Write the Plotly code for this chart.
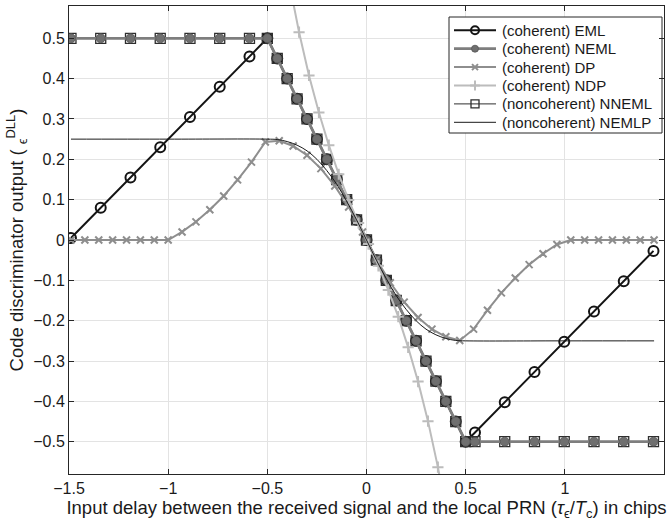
import plotly.graph_objects as go

# ---------------- data ----------------
# marker abscissae of the EML / NEML / NNEML curves
left_x = [-1.49, -1.34, -1.19, -1.04, -0.89, -0.74, -0.59]
mid_x = [-0.5, -0.45, -0.4, -0.35, -0.3, -0.25, -0.2, -0.15, -0.1, -0.05, 0.0,
         0.05, 0.1, 0.15, 0.2, 0.25, 0.3, 0.35, 0.4, 0.45, 0.5]
right_x = [0.547, 0.697, 0.847, 0.997, 1.147, 1.297, 1.447]

eml_left = [0.005, 0.08, 0.155, 0.23, 0.305, 0.38, 0.455]
eml_mid = [0.5, 0.45, 0.4, 0.35, 0.3, 0.25, 0.2, 0.15, 0.1, 0.05, 0.0,
           -0.05, -0.1, -0.15, -0.2, -0.25, -0.3, -0.35, -0.4, -0.45, -0.5]
eml_right = [-0.477, -0.402, -0.327, -0.252, -0.177, -0.102, -0.027]

neml_left = [0.5, 0.5, 0.5, 0.5, 0.5, 0.5, 0.5]
neml_mid = [0.5, 0.45, 0.4, 0.35, 0.3, 0.25, 0.2, 0.15, 0.1, 0.05, 0.0,
            -0.05, -0.1, -0.15, -0.2, -0.25, -0.3, -0.35, -0.4, -0.45, -0.5]
neml_right = [-0.5, -0.5, -0.5, -0.5, -0.5, -0.5, -0.5]

nneml_left = [0.5, 0.5, 0.5, 0.5, 0.5, 0.5, 0.5]
nneml_mid = [0.5, 0.45, 0.4, 0.35, 0.3, 0.25, 0.2, 0.15, 0.1, 0.05, 0.0,
             -0.05, -0.1, -0.15, -0.2, -0.25, -0.3, -0.35, -0.4, -0.45, -0.5]
nneml_right = [-0.5, -0.5, -0.5, -0.5, -0.5, -0.5, -0.5]

dp_x = [-1.49, -1.42, -1.35, -1.28, -1.21, -1.14, -1.07, -1.0, -0.93, -0.86,
        -0.79, -0.72, -0.65, -0.58, -0.51, -0.44, -0.37, -0.3, -0.23, -0.16,
        -0.09, -0.02, 0.05, 0.12, 0.19, 0.26, 0.33, 0.4, 0.47, 0.54,
        0.61, 0.68, 0.75, 0.82, 0.89, 0.96, 1.03, 1.1, 1.17, 1.24,
        1.31, 1.38, 1.45]
dp_y = [0.0, 0.0, 0.0, 0.0, 0.0, 0.0, 0.0, 0.0, 0.02, 0.045,
        0.075, 0.109, 0.149, 0.193, 0.243, 0.246, 0.233, 0.21, 0.177, 0.134,
        0.082, 0.02, -0.048, -0.106, -0.154, -0.192, -0.221, -0.24, -0.249, -0.221,
        -0.174, -0.131, -0.094, -0.061, -0.034, -0.011, 0.0, 0.0, 0.0, 0.0,
        0.0, 0.0, 0.0]

ndp_x = [-0.39, -0.34, -0.29, -0.24, -0.19, -0.14, -0.09, -0.04, 0.01,
         0.06, 0.11, 0.16, 0.21, 0.26, 0.31, 0.36, 0.41]
ndp_y = [0.639, 0.515, 0.408, 0.316, 0.235, 0.163, 0.099, 0.042, -0.01,
         -0.064, -0.124, -0.19, -0.266, -0.351, -0.449, -0.563, -0.695]

nemlp_x = [-1.49, -1.0, -0.5, -0.45, -0.4, -0.35, -0.3, -0.25, -0.2, -0.15, -0.1, -0.05, 0.0,
           0.05, 0.1, 0.15, 0.2, 0.25, 0.3, 0.35, 0.4, 0.45, 0.5, 1.0, 1.45]
nemlp_y = [0.25, 0.25, 0.25, 0.249, 0.244, 0.235, 0.221, 0.2, 0.172, 0.138, 0.096, 0.05, 0.0,
           -0.05, -0.096, -0.138, -0.172, -0.2, -0.221, -0.235, -0.244, -0.249, -0.25, -0.25, -0.25]

names = ["(coherent) EML", "(coherent) NEML", "(coherent) DP", "(coherent) NDP",
         "(noncoherent) NNEML", "(noncoherent) NEMLP"]

x_tick_vals = [-1.5, -1, -0.5, 0, 0.5, 1, 1.5]
y_tick_vals = [-0.5, -0.4, -0.3, -0.2, -0.1, 0, 0.1, 0.2, 0.3, 0.4, 0.5]

# ---------------- styles ----------------
FONT = "Liberation Sans, Arial, sans-serif"
C_EML, C_NEML_L, C_NEML_M = "#141414", "#7e7e7e", "#6f6f6f"
C_DP, C_NDP, C_NN = "#8e8e8e", "#bcbcbc", "#2e2e2e"

styles = [
    dict(line=dict(color=C_EML, width=2),
         marker=dict(symbol="circle-open", size=10, color=C_EML, line=dict(width=2, color=C_EML))),
    dict(line=dict(color=C_NEML_L, width=2.8),
         marker=dict(symbol="circle", size=9, color=C_NEML_M, line=dict(width=0.8, color="#555555"))),
    dict(line=dict(color=C_DP, width=2),
         marker=dict(symbol="x-thin", size=7, color=C_DP, line=dict(width=2, color=C_DP))),
    dict(line=dict(color=C_NDP, width=2),
         marker=dict(symbol="cross-thin", size=8, color=C_NDP, line=dict(width=2, color=C_NDP))),
    dict(line=dict(color=C_NN, width=1),
         marker=dict(symbol="square-open", size=10, color=C_NN, line=dict(width=1.3, color=C_NN))),
    dict(line=dict(color="#1a1a1a", width=1), marker=None),
]

fig = go.Figure()

def add(x, y, k, **kw):
    st = styles[k]
    args = dict(x=x, y=y, name=names[k], showlegend=False, line=st["line"])
    if st["marker"] is not None:
        args.update(mode="lines+markers", marker=st["marker"])
    else:
        args.update(mode="lines")
    args.update(kw)
    fig.add_trace(go.Scatter(**args))

add(left_x + mid_x + right_x, eml_left + eml_mid + eml_right, 0)
add(left_x + mid_x + right_x, nneml_left + nneml_mid + nneml_right, 4)
add(left_x + mid_x + right_x, neml_left + neml_mid + neml_right, 1)
add(dp_x, dp_y, 2)
add(ndp_x, ndp_y, 3)
add(nemlp_x, nemlp_y, 5, line_shape="spline")

# ---------------- legend (drawn in pixel coordinates on an overlay axis) ----------------
L, R, T, B = 69, 664, 6, 474          # plot-area pixel box
box_l, box_r, box_t, box_b = 449, 662, 17, 133
row_y0, row_dy = 30.3, 18.4
fig.add_trace(go.Scatter(x=[box_l, box_r, box_r, box_l, box_l],
                         y=[box_t, box_t, box_b, box_b, box_t],
                         xaxis="x2", yaxis="y2", mode="lines", fill="toself",
                         fillcolor="white", line=dict(color="#262626", width=1),
                         showlegend=False, hoverinfo="skip"))
legend_marker_size = [8, 7, 6, 7, 8, 0]
for k in range(6):
    ry = row_y0 + k * row_dy
    st = styles[k]
    fig.add_trace(go.Scatter(x=[454, 496], y=[ry, ry], xaxis="x2", yaxis="y2",
                             mode="lines", line=st["line"], showlegend=False,
                             hoverinfo="skip"))
    if st["marker"] is not None:
        m = dict(st["marker"])
        m["size"] = legend_marker_size[k]
        fig.add_trace(go.Scatter(x=[475], y=[ry], xaxis="x2", yaxis="y2",
                                 mode="markers", marker=m, showlegend=False,
                                 hoverinfo="skip"))
    fig.add_annotation(x=500, y=ry, xref="x2", yref="y2", text=names[k],
                       showarrow=False, xanchor="left", yanchor="middle",
                       font=dict(family=FONT, size=15, color="#1a1a1a"))

axis_common = dict(
    showline=True, linecolor="#262626", linewidth=1, mirror="ticks",
    ticks="inside", ticklen=5, tickcolor="#262626", tickwidth=1,
    showgrid=True, gridcolor="#e3e3e3", gridwidth=1, zeroline=False,
    tickfont=dict(family=FONT, size=16, color="#1a1a1a"),
)

fig.update_xaxes(range=[-1.5, 1.5], tickvals=x_tick_vals, **axis_common,
                 title=dict(text="Input delay between the received signal and the local PRN "
                                 "(<i>τ</i><sub>ϵ</sub>/<i>T</i><sub>c</sub>) in chips",
                            font=dict(family=FONT, size=18.5, color="#1a1a1a"), standoff=2))
fig.update_yaxes(range=[-0.58, 0.58], tickvals=y_tick_vals, **axis_common,
                 title=dict(text="Code discriminator output ( <sub>ϵ</sub><sup>DLL</sup>)",
                            font=dict(family=FONT, size=18.5, color="#1a1a1a"), standoff=4))

fig.update_layout(
    xaxis2=dict(overlaying="x", range=[L, R], visible=False, fixedrange=True),
    yaxis2=dict(overlaying="y", range=[B, T], visible=False, fixedrange=True),
    width=671, height=532,
    margin=dict(l=L, r=671 - R, t=T, b=532 - B, autoexpand=False),
    paper_bgcolor="white", plot_bgcolor="white",
    showlegend=False,
)

fig.write_html("out.html")
